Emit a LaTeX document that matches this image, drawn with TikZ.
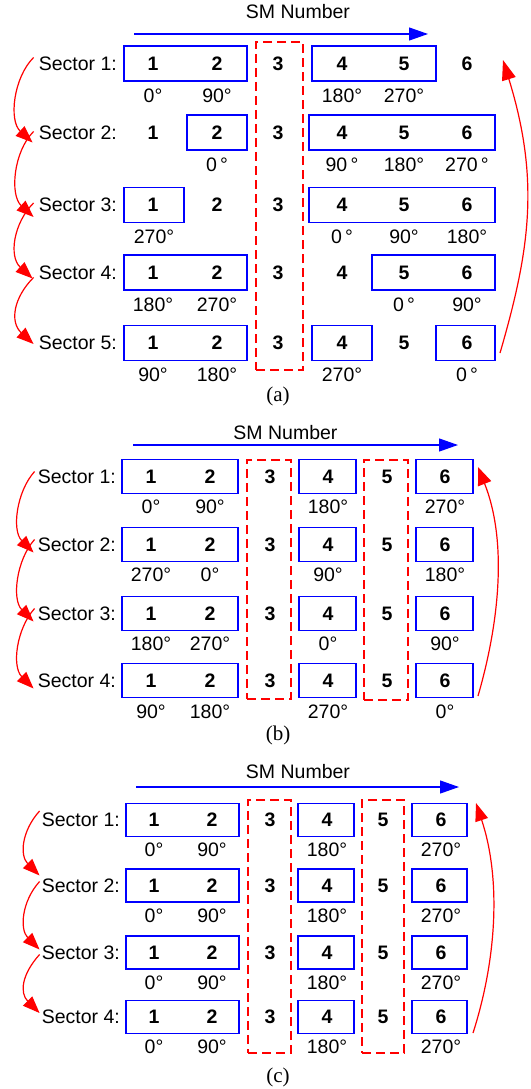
\documentclass[tikz,border=0pt]{standalone}
\usepackage{fontspec}
\setmainfont{Liberation Sans}
\newfontfamily\serifcap{Liberation Serif}
\usetikzlibrary{arrows.meta}

\tikzset{
  txt/.style={font=\fontsize{19.5}{22}\selectfont, inner sep=0pt},
  num/.style={font=\fontsize{19.5}{22}\selectfont\bfseries, inner sep=0pt},
  deg/.style={font=\fontsize{19.5}{22}\selectfont, inner sep=0pt},
  captxt/.style={font=\fontsize{21}{24}\selectfont\serifcap, inner sep=0pt},
  seclbl/.style={txt, anchor=east},
  bluebox/.style={draw=blue, line width=1.3pt, inner sep=0pt, minimum width=#1},
  redbox/.style={draw=red, line width=1.2pt, dash pattern=on 9pt off 5pt, inner sep=0pt},
  redarrow/.style={draw=red, line width=1.2pt, -{Triangle[length=17pt,width=13pt]}},
  bluearrow/.style={draw=blue, line width=1.2pt, -{Triangle[length=19pt,width=13pt]}},
}

\begin{document}
\begin{tikzpicture}[x=1pt,y=1pt]
\useasboundingbox (0,0) rectangle (530,-1089);

% ===================== (a) =====================
\node[txt] (aT) at (298,-12) {SM Number};
\coordinate (aA0) at (134,-34);
\coordinate (aA1) at (428,-34);
\draw[bluearrow] (aA0) -- (aA1);

% dashed group around SM 3
\node[redbox, minimum width=47pt, minimum height=328pt] (aD3) at (279.5,-206) {};

% row positions: 63.5, 132.5, 205, 272.5, 343
% sector 1
\node[bluebox=123pt, minimum height=35pt] (aB11) at (185.5,-63.5) {};
\node[bluebox=124pt, minimum height=35pt] (aB12) at (374,-63.5) {};
% sector 2
\node[bluebox=60pt, minimum height=35pt] (aB21) at (217,-132.5) {};
\node[bluebox=186pt, minimum height=35pt] (aB22) at (402,-132.5) {};
% sector 3
\node[bluebox=60pt, minimum height=35pt] (aB31) at (154,-205) {};
\node[bluebox=186pt, minimum height=35pt] (aB32) at (402,-205) {};
% sector 4
\node[bluebox=123pt, minimum height=35pt] (aB41) at (185.5,-272.5) {};
\node[bluebox=123pt, minimum height=35pt] (aB42) at (433.5,-272.5) {};
% sector 5
\node[bluebox=123pt, minimum height=35pt] (aB51) at (185.5,-343) {};
\node[bluebox=60pt, minimum height=35pt] (aB52) at (342,-343) {};
\node[bluebox=59pt, minimum height=35pt] (aB53) at (465.5,-343) {};

\foreach \r/\y in {1/63.5,2/132.5,3/205,4/272.5,5/343}{
  \node[seclbl] (aS\r) at (117,-\y) {Sector \r:};
  \foreach \c/\x in {1/153,2/217,3/278,4/342,5/404,6/467}{
    \node[num] (aN\r\c) at (\x,-\y) {\c};
  }
}

% phase labels
\node[deg] (aP11) at (153,-95.5) {0°};
\node[deg] (aP12) at (217,-95.5) {90°};
\node[deg] (aP14) at (342,-95.5) {180°};
\node[deg] (aP15) at (404,-95.5) {270°};
\node[deg] (aP22) at (217,-165) {0\,°};
\node[deg] (aP24) at (342,-165) {90\,°};
\node[deg] (aP25) at (404,-165) {180°};
\node[deg] (aP26) at (467,-165) {270\,°};
\node[deg] (aP31) at (154,-237) {270°};
\node[deg] (aP34) at (342,-237) {0\,°};
\node[deg] (aP35) at (404,-237) {90°};
\node[deg] (aP36) at (467,-237) {180°};
\node[deg] (aP41) at (153,-305) {180°};
\node[deg] (aP42) at (217,-305) {270°};
\node[deg] (aP45) at (404,-305) {0\,°};
\node[deg] (aP46) at (467,-305) {90°};
\node[deg] (aP51) at (153,-375) {90°};
\node[deg] (aP52) at (217,-375) {180°};
\node[deg] (aP54) at (342,-375) {270°};
\node[deg] (aP56) at (467,-375) {0\,°};

% sector-to-sector arrows
\draw[redarrow] ([shift={(-5,6)}]aS1.west) .. controls +(-20,-20) and +(-24,22) .. ([shift={(-6,-10)}]aS2.west);
\draw[redarrow] ([shift={(-5,1)}]aS2.west) .. controls +(-20,-20) and +(-24,22) .. ([shift={(-5,-12)}]aS3.west);
\draw[redarrow] ([shift={(-5,2)}]aS3.west) .. controls +(-20,-20) and +(-24,22) .. ([shift={(-6,-6)}]aS4.west);
\draw[redarrow] ([shift={(-5,-5)}]aS4.west) .. controls +(-20,-20) and +(-24,22) .. ([shift={(-5,-1)}]aS5.west);
% wrap-around arrow
\coordinate (aR0) at (500,-353);
\coordinate (aR1) at (503,-60);
\draw[redarrow, -{Triangle[length=20pt,width=14pt]}] (aR0) .. controls +(30,103) and +(37,-120) .. (aR1);

\node[captxt] (aC) at (278,-396) {(a)};

% ===================== (b) =====================
\node[txt] (bT) at (285.5,-433) {SM Number};
\coordinate (bA0) at (133,-445);
\coordinate (bA1) at (458,-445);
\draw[bluearrow] (bA0) -- (bA1);

\node[redbox, minimum width=44pt, minimum height=239pt] (bD3) at (269,-579.5) {};
\node[redbox, minimum width=44pt, minimum height=240pt] (bD5) at (386,-580) {};

\foreach \r/\y in {1/476.5,2/544.5,3/613.5,4/680.5}{
  \node[seclbl] (bS\r) at (116,-\y) {Sector \r:};
  \node[bluebox=116pt, minimum height=34pt] (bB\r a) at (180,-\y) {};
  \node[bluebox=57pt, minimum height=34pt] (bB\r b) at (327.5,-\y) {};
  \node[bluebox=57pt, minimum height=34pt] (bB\r c) at (444.5,-\y) {};
  \foreach \c/\x in {1/151,2/210,3/270,4/328,5/387,6/445}{
    \node[num] (bN\r\c) at (\x,-\y) {\c};
  }
}

\foreach \r/\y/\pa/\pb/\pd/\pf in {1/507/0/90/180/270, 2/575/270/0/90/180, 3/644/180/270/0/90, 4/712/90/180/270/0}{
  \node[deg] (bP\r1) at (151,-\y) {\pa°};
  \node[deg] (bP\r2) at (210,-\y) {\pb°};
  \node[deg] (bP\r4) at (328,-\y) {\pd°};
  \node[deg] (bP\r6) at (445,-\y) {\pf°};
}

\draw[redarrow] ([shift={(-3,5)}]bS1.west) .. controls +(-18,-20) and +(-22,22) .. ([shift={(-4,-8)}]bS2.west);
\draw[redarrow] ([shift={(-3,5)}]bS2.west) .. controls +(-18,-20) and +(-22,22) .. ([shift={(-4,-8)}]bS3.west);
\draw[redarrow] ([shift={(-3,5)}]bS3.west) .. controls +(-18,-20) and +(-22,22) .. ([shift={(-4,-8)}]bS4.west);
\coordinate (bR0) at (478,-696);
\coordinate (bR1) at (478,-467);
\draw[redarrow, -{Triangle[length=18pt,width=14pt]}] (bR0) .. controls +(22,76) and +(29,-73) .. (bR1);

\node[captxt] (bC) at (278,-735) {(b)};

% ===================== (c) =====================
\node[txt] (cT) at (298,-772) {SM Number};
\coordinate (cA0) at (136,-787);
\coordinate (cA1) at (459,-787);
\draw[bluearrow] (cA0) -- (cA1);

\node[redbox, minimum width=43pt, minimum height=253pt] (cD3) at (269.5,-926.5) {};
\node[redbox, minimum width=42pt, minimum height=253pt] (cD5) at (383,-926.5) {};

\foreach \r/\y in {1/820,2/885.5,3/952.5,4/1017}{
  \node[seclbl] (cS\r) at (120,-\y) {Sector \r:};
  \node[bluebox=113pt, minimum height=33pt] (cB\r a) at (182.5,-\y) {};
  \node[bluebox=56pt, minimum height=33pt] (cB\r b) at (326,-\y) {};
  \node[bluebox=55pt, minimum height=33pt] (cB\r c) at (439.5,-\y) {};
  \foreach \c/\x in {1/154,2/212,3/270,4/327,5/383,6/441}{
    \node[num] (cN\r\c) at (\x,-\y) {\c};
  }
  \node[deg] (cP\r1) at (154,-\y-30) {0°};
  \node[deg] (cP\r2) at (212,-\y-30) {90°};
  \node[deg] (cP\r4) at (327,-\y-30) {180°};
  \node[deg] (cP\r6) at (441,-\y-30) {270°};
}

\draw[redarrow] ([shift={(-2,9)}]cS1.west) .. controls +(-18,-20) and +(-20,20) .. ([shift={(-2,10)}]cS2.west);
\draw[redarrow] ([shift={(-2,4)}]cS2.west) .. controls +(-18,-20) and +(-20,20) .. ([shift={(-2,3)}]cS3.west);
\draw[redarrow] ([shift={(-2,-2)}]cS3.west) .. controls +(-18,-20) and +(-20,20) .. ([shift={(-2,4)}]cS4.west);
\coordinate (cR0) at (473,-1033);
\coordinate (cR1) at (476,-803);
\draw[redarrow, -{Triangle[length=18pt,width=13pt]}] (cR0) .. controls +(24,75) and +(25,-75) .. (cR1);

\node[captxt] (cC) at (278,-1077) {(c)};
\end{tikzpicture}
\end{document}
